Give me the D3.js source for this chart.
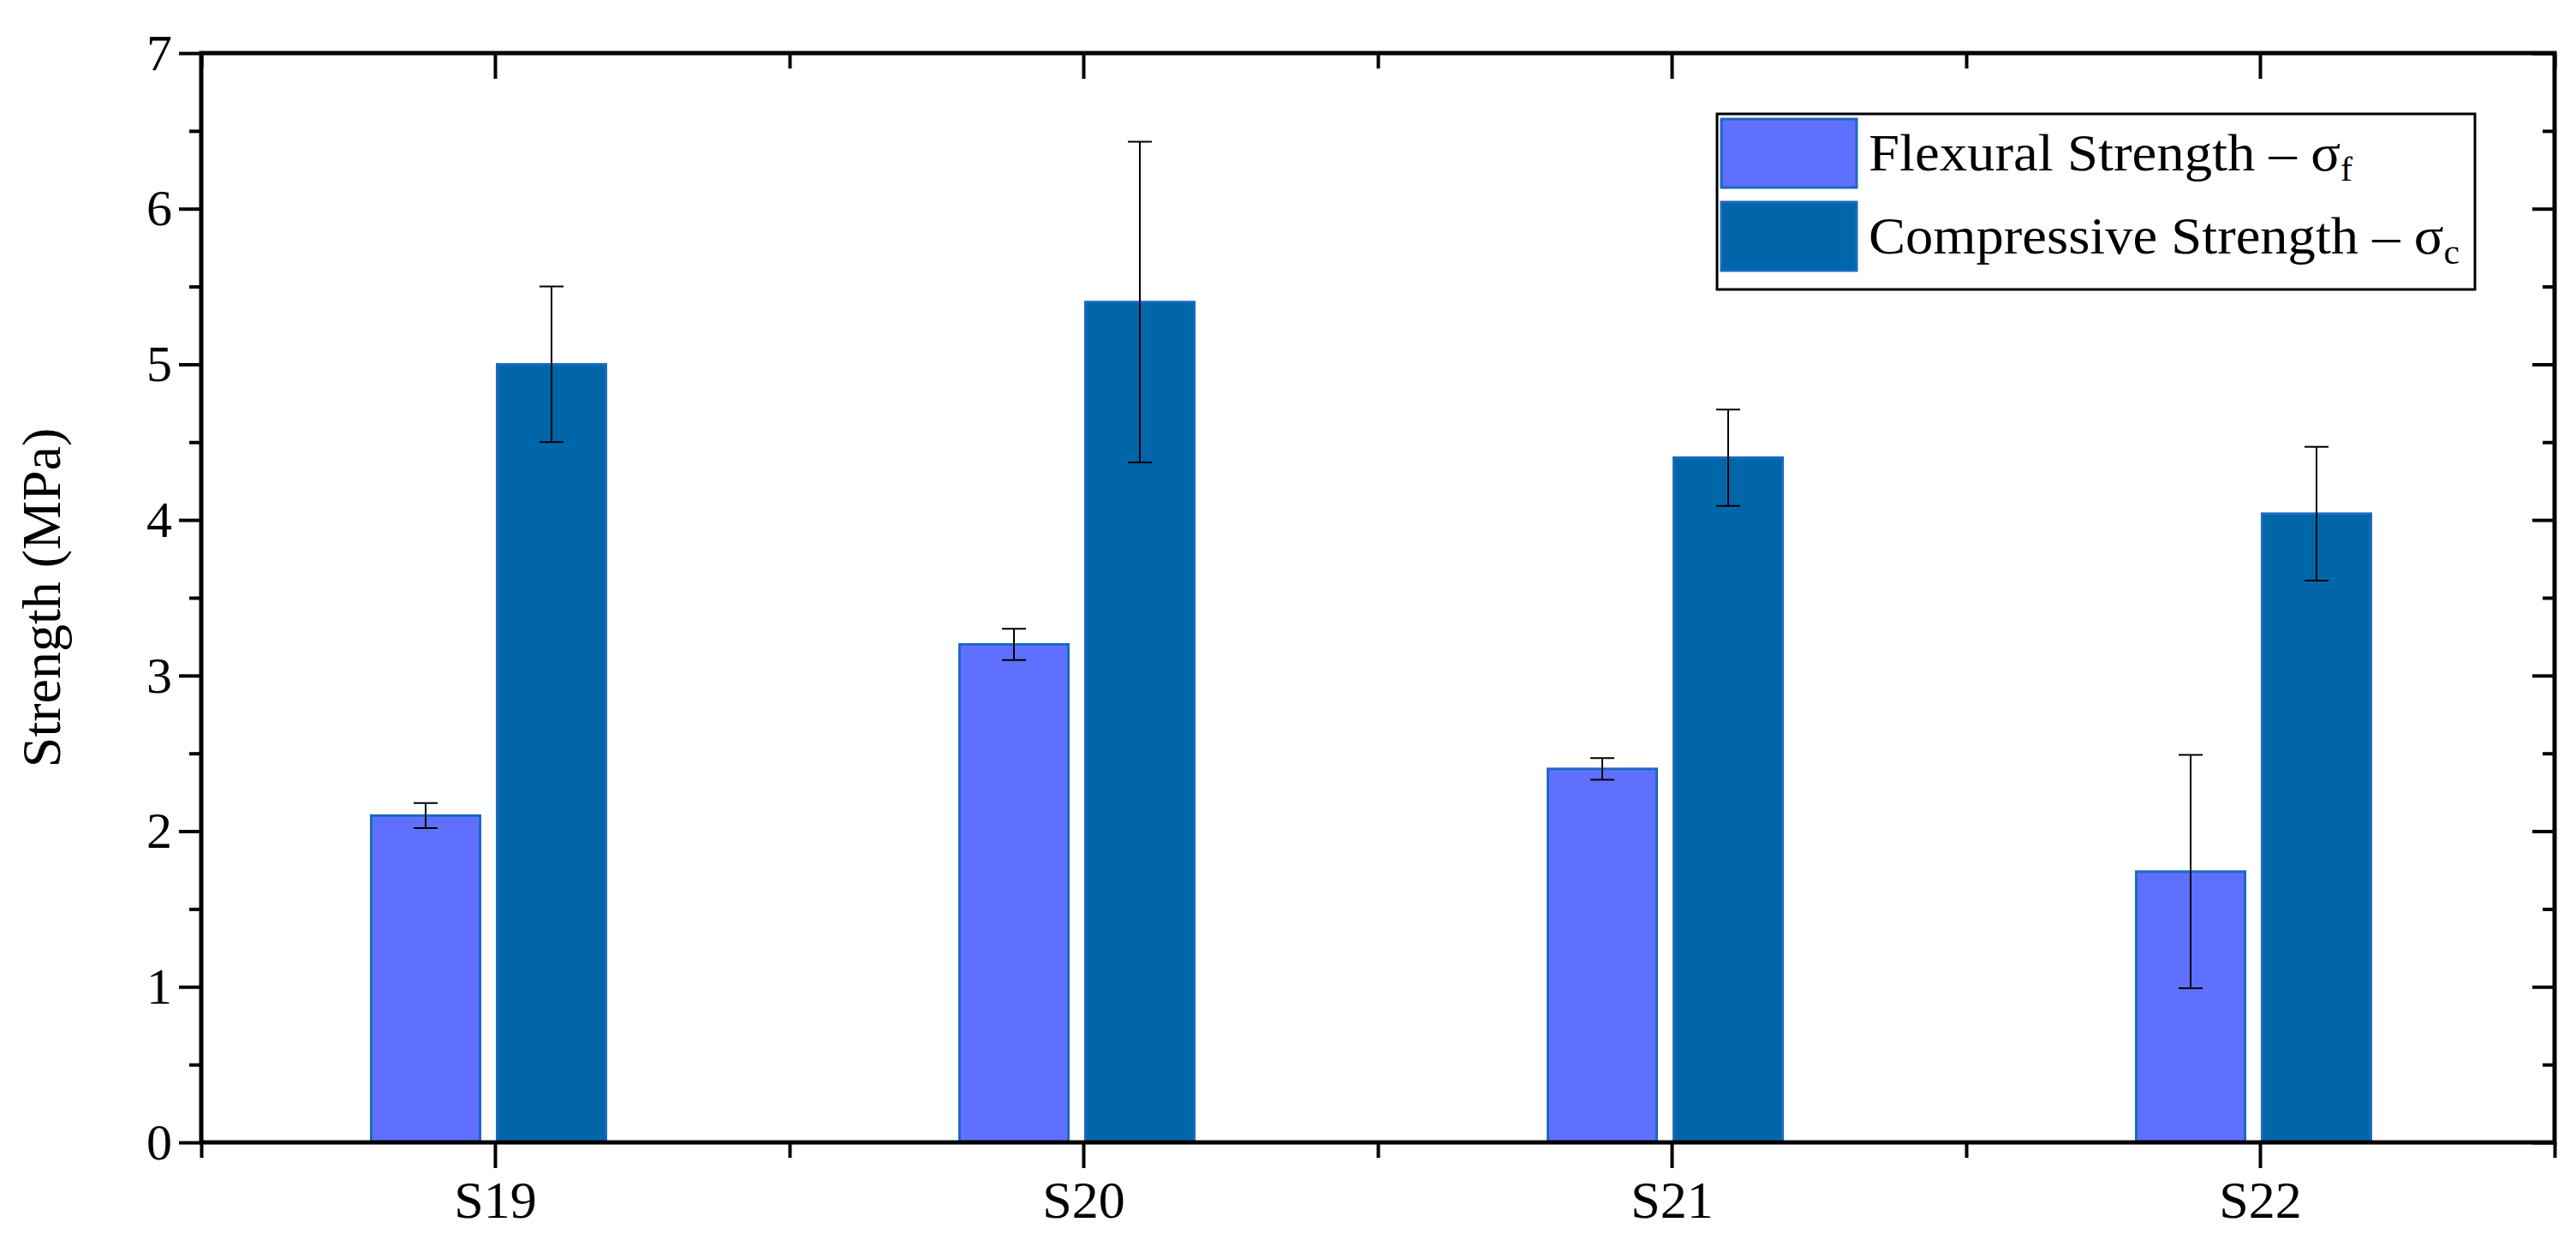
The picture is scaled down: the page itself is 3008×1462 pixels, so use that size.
<!DOCTYPE html>
<html><head><meta charset="utf-8">
<script src="https://cdn.jsdelivr.net/npm/d3@7"></script>
<style>body{margin:0;background:#fff}text{font-family:"Liberation Serif","DejaVu Serif",serif}</style>
</head><body><div id="chart"></div>
<script>
var categories = ["S19", "S20", "S21", "S22"];
var flexural = [2.1, 3.2, 2.4, 1.74];
var flexuralErr = [0.08, 0.1, 0.07, 0.75];
var compressive = [5.0, 5.4, 4.4, 4.04];
var compressiveErr = [0.5, 1.03, 0.31, 0.43];
var yTicks = [0, 1, 2, 3, 4, 5, 6, 7];

var W = 3008, H = 1462;
var L = 235, R = 2983, T = 62, B = 1334;
var svg = d3.select("#chart").append("svg").attr("width", W).attr("height", H);
var x = d3.scaleBand().domain(categories).range([L, R]).padding(0);
var y = d3.scaleLinear().domain([0, 7]).range([B, T]);
var bw = 127, gap = 20;

var series = [
  { vals: flexural, err: flexuralErr, fill: "#5f70ff", off: -bw - gap / 2 },
  { vals: compressive, err: compressiveErr, fill: "#0066aa", off: gap / 2 }
];
series.forEach(function (s) {
  var g = svg.append("g");
  g.selectAll("rect").data(categories).join("rect")
    .attr("x", function (c) { return x(c) + x.bandwidth() / 2 + s.off - 8; })
    .attr("y", function (c, i) { return y(s.vals[i]); })
    .attr("width", bw)
    .attr("height", function (c, i) { return B - y(s.vals[i]); })
    .attr("fill", s.fill).attr("stroke", "#1a6ac0").attr("stroke-width", 3);
  categories.forEach(function (c, i) {
    var cx = x(c) + x.bandwidth() / 2 + s.off - 8 + bw / 2;
    var y1 = y(s.vals[i] + s.err[i]), y0 = y(s.vals[i] - s.err[i]);
    g.append("path").attr("d", "M" + cx + "," + y0 + "V" + y1 +
      "M" + (cx - 14) + "," + y0 + "h28M" + (cx - 14) + "," + y1 + "h28")
      .attr("stroke", "#000").attr("stroke-width", 2).attr("fill", "none");
  });
});

// axes
var minor = d3.range(0.5, 7, 1);
var yl = svg.append("g").attr("transform", "translate(" + L + ",0)")
  .call(d3.axisLeft(y).tickValues(yTicks).tickSize(26).tickPadding(8).tickFormat(d3.format("d")));
yl.selectAll("text").attr("font-size", 60).attr("fill", "#000");
svg.append("g").attr("transform", "translate(" + L + ",0)")
  .call(d3.axisLeft(y).tickValues(minor).tickSize(14).tickFormat(""));
svg.append("g").attr("transform", "translate(" + R + ",0)")
  .call(d3.axisLeft(y).tickValues(yTicks).tickSize(26).tickFormat(""));
svg.append("g").attr("transform", "translate(" + R + ",0)")
  .call(d3.axisLeft(y).tickValues(minor).tickSize(14).tickFormat(""));

var xb = svg.append("g").attr("transform", "translate(0," + B + ")")
  .call(d3.axisBottom(x).tickSize(30).tickPadding(14));
xb.selectAll("text").attr("font-size", 62).attr("fill", "#000");
var bounds = d3.range(0, 5).map(function (i) { return L + i * x.step(); });
var xs = d3.scaleLinear().domain([L, R]).range([L, R]);
svg.append("g").attr("transform", "translate(0," + B + ")")
  .call(d3.axisBottom(xs).tickValues(bounds).tickSize(18).tickFormat(""));
svg.append("g").attr("transform", "translate(0," + T + ")")
  .call(d3.axisTop(x).tickSize(-30).tickFormat(""));
svg.append("g").attr("transform", "translate(0," + T + ")")
  .call(d3.axisTop(xs).tickValues(bounds).tickSize(-18).tickFormat(""));
svg.selectAll(".domain").remove();
svg.selectAll(".tick line").attr("stroke", "#000").attr("stroke-width", 4);
svg.append("rect").attr("x", L).attr("y", T).attr("width", R - L).attr("height", B - T)
  .attr("fill", "none").attr("stroke", "#000").attr("stroke-width", 5);

svg.append("text").attr("transform", "translate(70," + (T + B) / 2 + ") rotate(-90)")
  .attr("text-anchor", "middle").attr("font-size", 64).text("Strength (MPa)");

// legend
var lg = svg.append("g");
lg.append("rect").attr("x", 2005).attr("y", 133).attr("width", 885).attr("height", 205)
  .attr("fill", "#fff").attr("stroke", "#000").attr("stroke-width", 3);
var legendItems = [["Flexural Strength – σ", "f", "#5f70ff", 139], ["Compressive Strength – σ", "c", "#0066aa", 236]];
legendItems.forEach(function (d) {
  lg.append("rect").attr("x", 2010).attr("y", d[3]).attr("width", 158).attr("height", 80)
    .attr("fill", d[2]).attr("stroke", "#1a6ac0").attr("stroke-width", 3);
  var t = lg.append("text").attr("x", 2182).attr("y", d[3] + 60).attr("font-size", 62)
    .attr("textLength", d[1] === "f" ? 565 : 690).attr("lengthAdjust", "spacingAndGlyphs");
  t.append("tspan").text(d[0]);
  t.append("tspan").attr("font-size", 40).attr("dy", 12).text(d[1]);
});
</script></body></html>
